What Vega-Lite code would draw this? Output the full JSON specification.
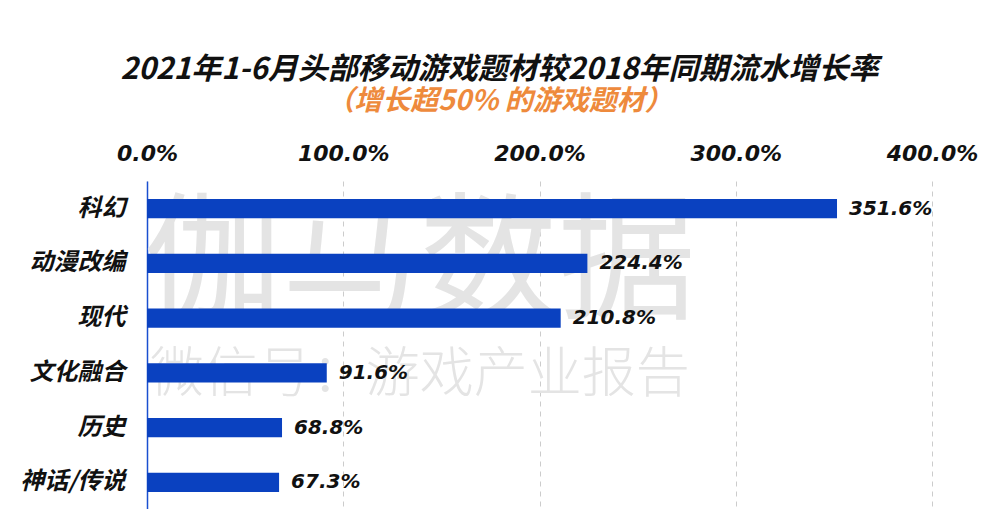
{
  "$schema": "https://vega.github.io/schema/vega-lite/v6.json",
  "width": 785,
  "height": 329,
  "autosize": {"type": "none"},
  "padding": {"left": 147, "top": 181, "right": 60, "bottom": 0},
  "background": "white",
  "title": {
    "text": "2021年1-6月头部移动游戏题材较2018年同期流水增长率",
    "subtitle": "（增长超50% 的游戏题材）",
    "anchor": "middle",
    "frame": "group",
    "dx": -40,
    "offset": 26,
    "font": "Noto Sans CJK SC",
    "fontSize": 30,
    "fontWeight": "bold",
    "fontStyle": "italic",
    "color": "#111111",
    "subtitleFont": "Noto Sans CJK SC",
    "subtitleFontSize": 28,
    "subtitleFontWeight": "bold",
    "subtitleFontStyle": "italic",
    "subtitleColor": "#ee8a3c",
    "subtitlePadding": 3
  },
  "config": {"view": {"stroke": null}},
  "datasets": {
    "bars": [
      {"theme": "科幻", "growth": 3.516},
      {"theme": "动漫改编", "growth": 2.244},
      {"theme": "现代", "growth": 2.108},
      {"theme": "文化融合", "growth": 0.916},
      {"theme": "历史", "growth": 0.688},
      {"theme": "神话/传说", "growth": 0.673}
    ],
    "wm1": [{"t": "伽马数据"}],
    "wm2": [{"t": "微信号：游戏产业报告"}]
  },
  "encoding": {
    "y": {
      "field": "theme",
      "type": "nominal",
      "sort": null,
      "scale": {"domain": ["科幻", "动漫改编", "现代", "文化融合", "历史", "神话/传说"], "paddingInner": 0.65, "paddingOuter": 0.33},
      "axis": {
        "title": null,
        "domainColor": "#1a4fd0",
        "domainWidth": 1.5,
        "ticks": false,
        "labelPadding": 22,
        "labelFont": "Noto Sans CJK SC",
        "labelFontSize": 24,
        "labelFontWeight": "bold",
        "labelFontStyle": "italic",
        "labelColor": "#111111"
      }
    }
  },
  "layer": [
    {
      "data": {"name": "wm1"},
      "mark": {"type": "text", "font": "Noto Sans CJK SC", "fontSize": 138, "color": "#e4e4e4", "baseline": "middle", "align": "center", "dy": 4},
      "encoding": {
        "x": {"datum": 1.39, "type": "quantitative"},
        "y": {"datum": "动漫改编", "type": "nominal"},
        "text": {"field": "t"}
      }
    },
    {
      "data": {"name": "wm2"},
      "mark": {"type": "text", "font": "Noto Sans CJK SC", "fontSize": 54, "fontWeight": 300, "color": "#e4e4e4", "baseline": "middle", "align": "center", "dy": 3},
      "encoding": {
        "x": {"datum": 1.39, "type": "quantitative"},
        "y": {"datum": "文化融合", "type": "nominal"},
        "text": {"field": "t"}
      }
    },
    {
      "data": {"name": "bars"},
      "mark": {"type": "bar", "color": "#0a41c0"},
      "encoding": {
        "x": {
          "field": "growth",
          "type": "quantitative",
          "scale": {"domain": [0, 4], "nice": false},
          "axis": {
            "orient": "top",
            "title": null,
            "values": [0, 1, 2, 3, 4],
            "format": ".1%",
            "domain": false,
            "ticks": false,
            "labelFlush": false,
            "labelOverlap": false,
            "labelPadding": 16,
            "labelFont": "DejaVu Sans",
            "labelFontSize": 22,
            "labelFontWeight": "bold",
            "labelFontStyle": "italic",
            "labelColor": "#111111",
            "grid": true,
            "gridColor": "#cccccc",
            "gridDash": [5, 5],
            "gridWidth": 1
          }
        }
      }
    },
    {
      "data": {"name": "bars"},
      "mark": {"type": "text", "align": "left", "baseline": "middle", "dx": 12, "font": "DejaVu Sans", "fontSize": 20, "fontWeight": "bold", "fontStyle": "italic", "color": "#111111"},
      "encoding": {
        "x": {"field": "growth", "type": "quantitative"},
        "text": {"field": "growth", "type": "quantitative", "format": ".1%"}
      }
    }
  ]
}
